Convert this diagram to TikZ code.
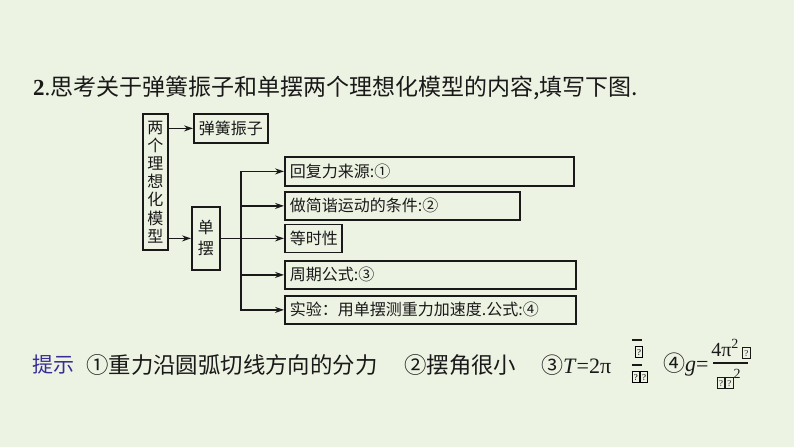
\documentclass[tikz,border=0pt]{standalone}
\usepackage{fontspec}
\setmainfont{Liberation Serif}
\newfontfamily\cjk{Noto Sans CJK SC}
\usetikzlibrary{arrows.meta}
\definecolor{bg}{RGB}{237,243,227}
\definecolor{hintc}{RGB}{55,45,150}
\definecolor{ink}{RGB}{25,25,25}
\newcommand\tofu{{\fboxsep=1.2pt\fboxrule=1pt\fbox{\fontsize{9}{9}\selectfont\rule{0pt}{7pt}?}}}
\begin{document}
\begin{tikzpicture}[x=1pt,y=-1pt,
  box/.style={draw=ink, line width=1.8pt, inner xsep=5pt, inner ysep=0pt, anchor=north west,
    font=\cjk\fontsize{16}{18}\selectfont, text=ink},
  vbox/.style={box, inner xsep=0pt, align=center},
  ln/.style={draw=ink, line width=1.6pt, line cap=rect},
  arr/.style={ln, -{Stealth[length=9pt,width=6pt]}},
  txt/.style={anchor=west, inner sep=0pt, text=ink, font=\fontsize{22}{24}\selectfont}]
\fill[bg] (0,0) rectangle (794,447);
\useasboundingbox (0,0) rectangle (794,447);

% title
\node[txt, font=\fontsize{23}{25}\selectfont] (title) at (33,88)
  {\textbf{2}.{\cjk 思考关于弹簧振子和单摆两个理想化模型的内容,填写下图.}};

% boxes
\node[vbox, minimum width=25, minimum height=136, font=\cjk\fontsize{16}{18.2}\selectfont] (m) at (142,113)
  {两\\个\\理\\想\\化\\模\\型};
\node[box, minimum width=74, minimum height=29, inner xsep=0pt] (s) at (193,113) {弹簧振子};
\node[vbox, minimum width=28, minimum height=63, font=\cjk\fontsize{16}{21}\selectfont] (d) at (191,206) {单\\摆};
\node[box, minimum width=289, minimum height=29, text width=279, align=left] (b1) at (284,156) {回复力来源:①};
\node[box, minimum width=235, minimum height=28, text width=225, align=left] (b2) at (284,191) {做简谐运动的条件:②};
\node[box, minimum width=57, minimum height=28, text width=47, align=left] (b3) at (284,223.5) {等时性};
\node[box, minimum width=291, minimum height=28, text width=281, align=left] (b4) at (284,260) {周期公式:③};
\node[box, minimum width=291, minimum height=28, text width=281, align=left] (b5) at (284,295) {实验：用单摆测重力加速度.公式:④};

% connectors
\coordinate (bus) at (241,0);
\draw[arr] (m.east |- s.west) -- (s.west);
\draw[arr] (m.east |- d.west) -- (d.west);
\draw[arr] (d.east) -- (b3.west);
\draw[arr] (bus |- b5.west) |- (b1.west);
\foreach \b in {b2,b4,b5} \draw[arr] (bus |- \b.west) -- (\b.west);

% hint line
\node[txt, text=hintc, font=\cjk\fontsize{21}{24}\selectfont] (tip) at (32,365) {提示};
\node[txt, font=\cjk\fontsize{22.4}{24}\selectfont] (h1) at (86,365) {①重力沿圆弧切线方向的分力};
\node[txt, font=\cjk\fontsize{22.4}{24}\selectfont] (h2) at (404,365) {②摆角很小};
\node[txt] (h3) at (541,365) {{\cjk ③}\textit{T}=2π};
\node[inner sep=0pt] (q1) at (639,352) {\tofu};
\node[inner sep=0pt] (q2) at (640,377) {\tofu\tofu};
\draw[line width=1.5pt, draw=ink] (632,340) -- (642,340);
\draw[line width=1.5pt, draw=ink] (632,365) -- (642,365);
\node[txt] (h4) at (663,365) {{\cjk ④}\textit{g}=};
\node[inner sep=0pt, font=\fontsize{20}{22}\selectfont, text=ink] (n4) at (731,349) {4π\textsuperscript{2}\,\tofu};
\node[inner sep=0pt, font=\fontsize{20}{22}\selectfont, text=ink] (dn4) at (729,379) {\tofu\tofu\textsuperscript{2}};
\draw[line width=1.4pt, draw=ink] (713,363) -- (748,363);
\end{tikzpicture}
\end{document}
